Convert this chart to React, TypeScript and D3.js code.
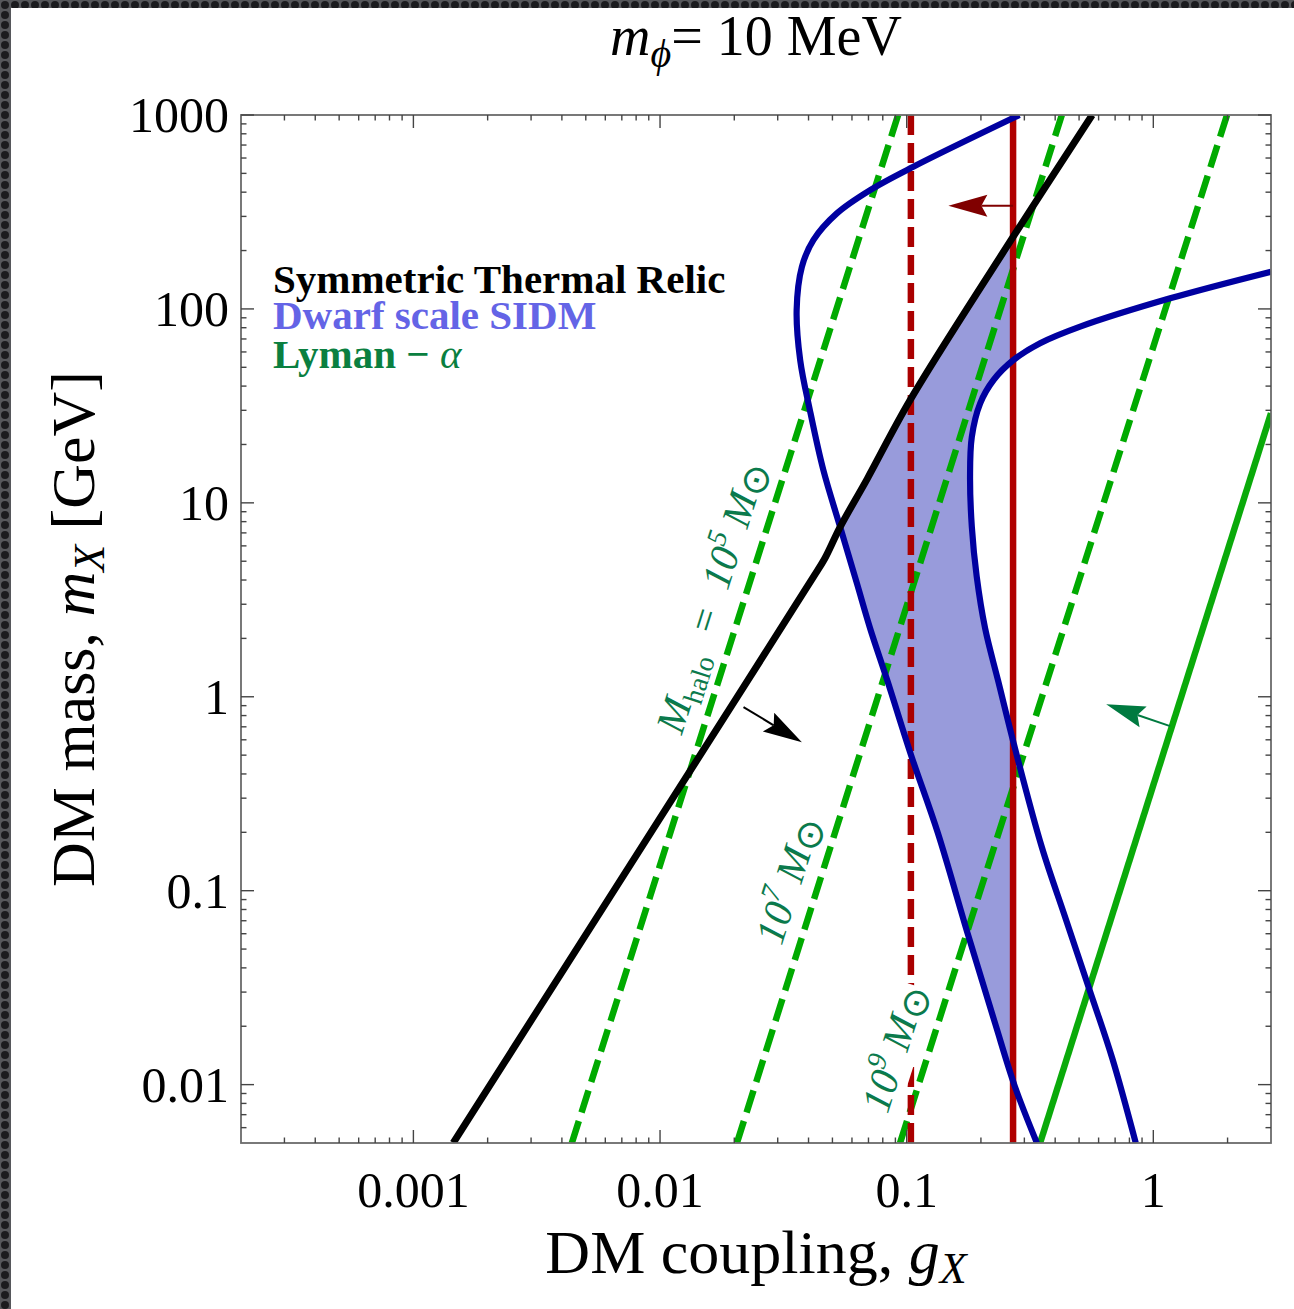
import React, { useRef, useEffect } from "react";
import * as d3 from "d3";

const W = 1294;
const H = 1309;
const FONT = "'Liberation Serif', 'Times New Roman', Times, serif";

// axes
const xDomain = [0.0002, 3];
const yDomain = [0.005, 1000];
const xTicks = [0.001, 0.01, 0.1, 1];
const xTickLabels = ["0.001", "0.01", "0.1", "1"];
const yTicks = [0.01, 0.1, 1, 10, 100, 1000];
const yTickLabels = ["0.01", "0.1", "1", "10", "100", "1000"];

// symmetric thermal relic (black)
const relicG = [0.00145, 0.01, 0.0217, 0.035, 0.042, 0.0465, 0.0537, 0.0692, 0.1033, 0.27, 0.565];
const relicM = [0.005, 0.237, 1.11, 2.9, 4.18, 5.15, 7.5, 13.3, 33.9, 235, 1000];

// dwarf scale SIDM boundaries (blue)
const sidmLeftG = [0.2864, 0.1064, 0.0711, 0.0521, 0.0419, 0.0376, 0.0358, 0.037, 0.0405, 0.0459, 0.0537, 0.0628, 0.0711, 0.0836, 0.1042, 0.1337, 0.1775, 0.228, 0.2748, 0.3373];
const sidmLeftM = [1000, 541, 410, 311, 227, 165, 98.7, 54.5, 30.1, 14.8, 7.53, 3.85, 2.25, 1.205, 0.5, 0.199, 0.059, 0.0208, 0.00976, 0.005];
const sidmRightG = [3.0, 1.17, 0.505, 0.3475, 0.271, 0.225, 0.1986, 0.1837, 0.1807, 0.1837, 0.1923, 0.208, 0.235, 0.2748, 0.353, 0.4395, 0.548, 0.682, 0.849];
const sidmRightM = [155.6, 113.4, 81, 66.5, 54.5, 43, 32.6, 21.9, 13.6, 7.53, 4.16, 2.25, 1.205, 0.543, 0.168, 0.0728, 0.0315, 0.01364, 0.005];

// Lyman-alpha bound (solid green)
const lymanG = [0.3475, 3.0];
const lymanM = [0.005, 29];

// halo mass contours (dashed green)
const haloExp = ["5", "7", "9"];
const haloGLow = [0.00439, 0.0205, 0.094];
const haloGHigh = [0.0923, 0.4256, 1.99];
const haloLabelG = [0.01626, 0.0333, 0.0897];
const haloLabelM = [3.27, 0.1135, 0.0154];

// red bounds
const redDashedG = 0.104;
const redSolidG = 0.27;

// arrows: [gFrom, mFrom, gTo, mTo]
const relicArrow = [0.0218, 0.885, 0.0376, 0.582];
const redArrow = [0.27, 340, 0.1476, 340];
const lymanArrow = [1.17, 0.706, 0.644, 0.914];

const zip = (a: number[], b: number[]) => a.map((v, i) => [v, b[i]] as [number, number]);

export default function App() {
  const ref = useRef<SVGSVGElement>(null);

  useEffect(() => {
    const svg = d3.select(ref.current);
    svg.selectAll("*").remove();

    const left = 241, right = 1271, top = 115, bottom = 1143;
    const x = d3.scaleLog().domain(xDomain).range([left, right]);
    const y = d3.scaleLog().domain(yDomain).range([bottom, top]);

    const defs = svg.append("defs");
    const pat = defs.append("pattern").attr("id", "bgdots")
      .attr("width", 10).attr("height", 10).attr("patternUnits", "userSpaceOnUse");
    pat.append("rect").attr("width", 10).attr("height", 10).attr("fill", "#56575b");
    pat.append("circle").attr("cx", 5).attr("cy", 5).attr("r", 4).attr("fill", "#1b1b1e");

    defs.append("clipPath").attr("id", "plotClip").append("rect")
      .attr("x", left).attr("y", top).attr("width", right - left).attr("height", bottom - top);
    defs.append("clipPath").attr("id", "redClip").append("rect")
      .attr("x", left).attr("y", top).attr("width", x(redSolidG) - left).attr("height", bottom - top);

    const line = d3.line<[number, number]>()
      .x((d) => x(d[0]))
      .y((d) => y(d[1]))
      .curve(d3.curveCatmullRom.alpha(0.5));

    const relicPts = zip(relicG, relicM);
    defs.append("clipPath").attr("id", "relicClip").append("path")
      .attr("d", line(relicPts) + `L${x(xDomain[1])},${y(yDomain[1])}L${x(xDomain[1])},${y(yDomain[0])}Z`);

    // background
    svg.append("rect").attr("width", W).attr("height", H).attr("fill", "url(#bgdots)");
    svg.append("rect").attr("x", 11).attr("y", 8).attr("width", W - 11).attr("height", H - 8).attr("fill", "#fff");

    const plot = svg.append("g").attr("clip-path", "url(#plotClip)");

    // shaded SIDM region
    const leftPts = zip(sidmLeftG, sidmLeftM);
    const rightPts = zip(sidmRightG, sidmRightM);
    const bandD = line(leftPts) + "L" + (line(rightPts.slice().reverse()) as string).slice(1)
      + `L${x(xDomain[1])},${y(yDomain[1])}Z`;
    plot.append("g").attr("clip-path", "url(#redClip)")
      .append("g").attr("clip-path", "url(#relicClip)")
      .append("path").attr("d", bandD).attr("fill", "#989bdb");

    // halo dashed lines
    haloGLow.forEach((g0, i) => {
      plot.append("line")
        .attr("x1", x(g0)).attr("y1", y(yDomain[0]))
        .attr("x2", x(haloGHigh[i])).attr("y2", y(yDomain[1]))
        .attr("stroke", "#00aa00").attr("stroke-width", 6.5)
        .attr("stroke-dasharray", "23,9");
    });

    // Lyman-alpha
    plot.append("path").attr("d", line(zip(lymanG, lymanM)))
      .attr("fill", "none").attr("stroke", "#0aaa0a").attr("stroke-width", 6.5);

    // red dashed
    plot.append("line")
      .attr("x1", x(redDashedG)).attr("x2", x(redDashedG))
      .attr("y1", top).attr("y2", bottom)
      .attr("stroke", "#aa0000").attr("stroke-width", 6.5).attr("stroke-dasharray", "20,8");

    // halo labels
    const labelColor = "#0b7a4c";
    haloExp.forEach((e, i) => {
      const p1 = [x(haloGLow[i]), y(yDomain[0])];
      const p2 = [x(haloGHigh[i]), y(yDomain[1])];
      const ang = (Math.atan2(p2[1] - p1[1], p2[0] - p1[0]) * 180) / Math.PI;
      const g = svg.append("g")
        .attr("transform", `translate(${x(haloLabelG[i])},${y(haloLabelM[i])}) rotate(${ang})`);
      const t = g.append("text").attr("text-anchor", "middle").attr("y", 13)
        .attr("font-family", FONT).attr("font-size", 41).attr("fill", labelColor)
        .attr("font-style", "italic").attr("xml:space", "preserve");
      if (i === 0) {
        t.append("tspan").text("M");
        t.append("tspan").attr("font-style", "normal").attr("font-size", 28).attr("dy", 9).text("halo");
        t.append("tspan").attr("dy", -9).text("\u00a0 = \u00a010");
      } else {
        t.append("tspan").text("10");
      }
      t.append("tspan").attr("font-size", 28).attr("dy", -17).text(e);
      t.append("tspan").attr("dy", 17).text("\u00a0M");
      t.append("tspan").attr("font-style", "normal").attr("font-size", 38).attr("dy", 6).text("\u2299");
      if (i === 2) {
        const bb = (t.node() as SVGTextElement).getBBox();
        g.insert("rect", "text").attr("x", bb.x).attr("y", bb.y + 4)
          .attr("width", bb.width).attr("height", bb.height - 8).attr("fill", "#fff");
      }
    });

    // red solid
    plot.append("line")
      .attr("x1", x(redSolidG)).attr("x2", x(redSolidG))
      .attr("y1", top).attr("y2", bottom)
      .attr("stroke", "#b00000").attr("stroke-width", 6.5);

    // blue SIDM curves
    [leftPts, rightPts].forEach((pts) => {
      plot.append("path").attr("d", line(pts))
        .attr("fill", "none").attr("stroke", "#0000a0").attr("stroke-width", 6.2);
    });

    // thermal relic
    plot.append("path").attr("d", line(relicPts))
      .attr("fill", "none").attr("stroke", "#000").attr("stroke-width", 7);

    // arrows
    const drawArrow = (a: number[], color: string) => {
      const x0 = x(a[0]), y0 = y(a[1]), x1 = x(a[2]), y1 = y(a[3]);
      const L = Math.hypot(x1 - x0, y1 - y0);
      const ux = (x1 - x0) / L, uy = (y1 - y0) / L;
      const px = -uy, py = ux;
      const hl = 39, hw = 11, notch = 6;
      const bx = x1 - ux * hl, by = y1 - uy * hl;
      const nx = x1 - ux * (hl - notch), ny = y1 - uy * (hl - notch);
      svg.append("line").attr("x1", x0).attr("y1", y0).attr("x2", nx).attr("y2", ny)
        .attr("stroke", color).attr("stroke-width", 2);
      svg.append("path")
        .attr("d", `M${x1},${y1}L${bx + px * hw},${by + py * hw}L${nx},${ny}L${bx - px * hw},${by - py * hw}Z`)
        .attr("fill", color);
    };
    drawArrow(relicArrow, "#000");
    drawArrow(redArrow, "#800000");
    drawArrow(lymanArrow, "#007a40");

    // frame and ticks
    svg.append("rect").attr("x", left).attr("y", top)
      .attr("width", right - left).attr("height", bottom - top)
      .attr("fill", "none").attr("stroke", "#6b6b6b").attr("stroke-width", 1.8);

    const minor = (lo: number, hi: number) => {
      const out: number[] = [];
      for (let e = -5; e <= 3; e++) {
        for (let k = 2; k <= 9; k++) {
          const v = k * Math.pow(10, e);
          if (v >= lo * 1.0001 && v <= hi * 0.9999) out.push(v);
        }
      }
      return out;
    };
    const tickG = svg.append("g").attr("stroke", "#444").attr("stroke-width", 1.4);
    const xt = [...xTicks.map((v) => [v, 13]), ...minor(xDomain[0], xDomain[1]).map((v) => [v, 5.5])];
    xt.forEach(([v, l]) => {
      tickG.append("line").attr("x1", x(v)).attr("x2", x(v)).attr("y1", bottom).attr("y2", bottom - l);
      tickG.append("line").attr("x1", x(v)).attr("x2", x(v)).attr("y1", top).attr("y2", top + l);
    });
    const yt = [...yTicks.map((v) => [v, 13]), ...minor(yDomain[0], yDomain[1]).map((v) => [v, 5.5])];
    yt.forEach(([v, l]) => {
      tickG.append("line").attr("y1", y(v)).attr("y2", y(v)).attr("x1", left).attr("x2", left + l);
      tickG.append("line").attr("y1", y(v)).attr("y2", y(v)).attr("x1", right).attr("x2", right - l);
    });

    // tick labels
    xTicks.forEach((v, i) => {
      svg.append("text").attr("x", x(v)).attr("y", 1207).attr("text-anchor", "middle")
        .attr("font-family", FONT).attr("font-size", 50).attr("fill", "#000").text(xTickLabels[i]);
    });
    yTicks.forEach((v, i) => {
      svg.append("text").attr("x", 229).attr("y", y(v) + 17).attr("text-anchor", "end")
        .attr("font-family", FONT).attr("font-size", 50).attr("fill", "#000").text(yTickLabels[i]);
    });

    // title
    const title = svg.append("text").attr("x", (left + right) / 2).attr("y", 55)
      .attr("text-anchor", "middle").attr("font-family", FONT).attr("font-size", 56);
    title.append("tspan").attr("font-style", "italic").text("m");
    title.append("tspan").attr("font-style", "italic").attr("font-size", 40).attr("dy", 12).text("\u03d5");
    title.append("tspan").attr("dy", -12).text("= 10 MeV");

    // axis labels
    const xl = svg.append("text").attr("x", (left + right) / 2).attr("y", 1273)
      .attr("text-anchor", "middle").attr("font-family", FONT).attr("font-size", 62);
    xl.append("tspan").text("DM coupling, ");
    xl.append("tspan").attr("font-style", "italic").text("g");
    xl.append("tspan").attr("font-style", "italic").attr("font-size", 44).attr("dy", 10).text("X");

    const yl = svg.append("text")
      .attr("transform", `translate(94,${(top + bottom) / 2}) rotate(-90)`)
      .attr("text-anchor", "middle").attr("font-family", FONT).attr("font-size", 62);
    yl.append("tspan").text("DM mass, ");
    yl.append("tspan").attr("font-style", "italic").text("m");
    yl.append("tspan").attr("font-style", "italic").attr("font-size", 44).attr("dy", 10).text("X");
    yl.append("tspan").attr("dy", -10).text(" [GeV]");

    // legend
    const leg = svg.append("g").attr("font-family", FONT).attr("font-size", 41).attr("font-weight", "bold");
    leg.append("text").attr("x", 273).attr("y", 293).attr("fill", "#000").text("Symmetric Thermal Relic");
    leg.append("text").attr("x", 273).attr("y", 329).attr("fill", "#6464e6").text("Dwarf scale SIDM");
    const ly = leg.append("text").attr("x", 273).attr("y", 368).attr("fill", "#0a7f40");
    ly.append("tspan").text("Lyman \u2212 ");
    ly.append("tspan").attr("font-style", "italic").attr("font-weight", "normal").text("\u03b1");
  }, []);

  return (
    <svg
      ref={ref}
      width={W}
      height={H}
      style={{ position: "absolute", left: 0, top: 0, display: "block" }}
    />
  );
}
